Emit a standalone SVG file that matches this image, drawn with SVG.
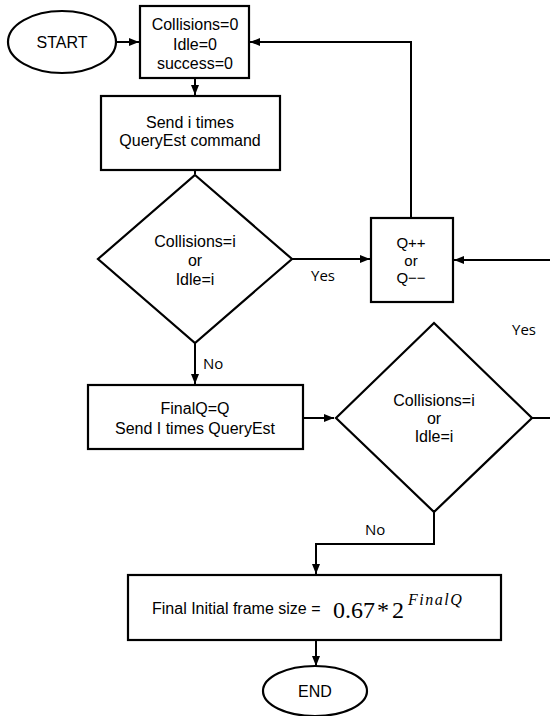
<svg xmlns="http://www.w3.org/2000/svg" width="550" height="716" viewBox="0 0 550 716">
<style>
.s{fill:#fff;stroke:#000;stroke-width:2.2}
.c{fill:none;stroke:#000;stroke-width:2}
.t{font-family:"Liberation Sans",Arial,sans-serif;font-size:16px;fill:#000;text-anchor:middle}
.l{font-family:"Open Sans","Noto Sans",sans-serif;font-size:15px;fill:#000}
.m{font-family:"Liberation Serif","Times New Roman",serif;fill:#000}
</style>
<defs>
<marker id="a" viewBox="0 0 10 10" refX="10" refY="5" markerWidth="5" markerHeight="5" orient="auto">
<path d="M0,1 L10,5 L0,9 z" fill="#000"/>
</marker>
</defs>
<rect width="550" height="716" fill="#fff"/>
<g id="connectors">
<path class="c" d="M115,42 H139" marker-end="url(#a)"/>
<path class="c" d="M411,218 V42 H250" marker-end="url(#a)"/>
<path class="c" d="M195,79 V95" marker-end="url(#a)"/>
<path class="c" d="M195,171 V174" marker-end="url(#a)"/>
<path class="c" d="M292,259 H370" marker-end="url(#a)"/>
<path class="c" d="M550,260 H454" marker-end="url(#a)"/>
<path class="c" d="M195,343 V384" marker-end="url(#a)"/>
<path class="c" d="M303,418 H334" marker-end="url(#a)"/>
<path class="c" d="M532,418 H550"/>
<path class="c" d="M434,512 V544 H316 V574" marker-end="url(#a)"/>
<path class="c" d="M316,641 V666" marker-end="url(#a)"/>
<text class="l" x="311" y="281">Yes</text>
<text class="l" x="512" y="335">Yes</text>
<text class="l" x="203" y="369">No</text>
<text class="l" x="365" y="535">No</text>
</g>
<g id="start">
<ellipse class="s" cx="62" cy="42" rx="54" ry="31"/>
<text class="t" x="62" y="48">START</text>
</g>
<g id="init">
<rect class="s" x="140" y="6" width="109" height="72" stroke-width="2.6"/>
<text class="t" x="195" y="30">Collisions=0</text>
<text class="t" x="195" y="50">Idle=0</text>
<text class="t" x="195" y="69">success=0</text>
</g>
<g id="send">
<rect class="s" x="101" y="96" width="179" height="74"/>
<text class="t" x="190" y="128">Send i times</text>
<text class="t" x="190" y="146">QueryEst command</text>
</g>
<g id="decision1">
<polygon class="s" points="195,175 292,259 195,343 98,259"/>
<text class="t" x="195" y="247">Collisions=i</text>
<text class="t" x="195" y="266">or</text>
<text class="t" x="195" y="285">Idle=i</text>
</g>
<g id="qadjust">
<rect class="s" x="371" y="218" width="82" height="84"/>
<text class="t" x="411" y="248" style="font-size:15px">Q++</text>
<text class="t" x="411" y="266" style="font-size:15px">or</text>
<text class="t" x="411" y="283" style="font-size:15px">Q−−</text>
</g>
<g id="finalq">
<rect class="s" x="88" y="385" width="215" height="64"/>
<text class="t" x="195" y="414">FinalQ=Q</text>
<text class="t" x="195" y="434">Send I times QueryEst</text>
</g>
<g id="decision2">
<polygon class="s" points="434,323 532,418 434,512 336,418"/>
<text class="t" x="434" y="406">Collisions=i</text>
<text class="t" x="434" y="424">or</text>
<text class="t" x="434" y="442">Idle=i</text>
</g>
<g id="framesize">
<rect class="s" x="128" y="575" width="373" height="65"/>
<text class="t" x="152" y="614" style="text-anchor:start">Final Initial frame size =</text>
<text class="m" x="333" y="618" style="font-size:24px">0.67<tspan x="377">*</tspan><tspan x="392">2</tspan><tspan x="408" y="605" style="font-size:16px;font-style:italic;letter-spacing:1.5px">FinalQ</tspan></text>
</g>
<g id="end">
<ellipse class="s" cx="315" cy="691" rx="52" ry="25"/>
<text class="t" x="315" y="697">END</text>
</g>
</svg>
